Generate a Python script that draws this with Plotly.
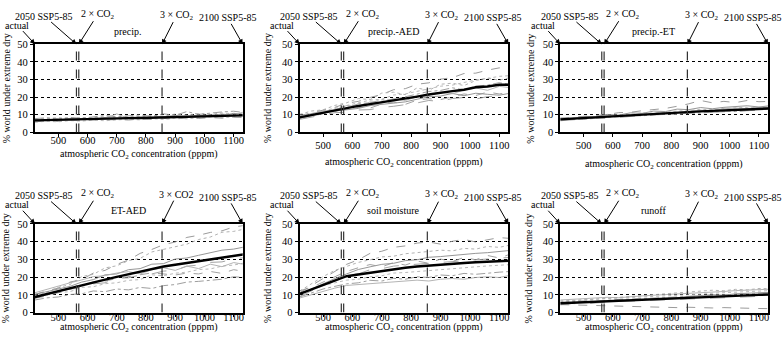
import plotly.graph_objects as go

# CO2 concentration sample points (ppm)
co2 = [420, 460, 500, 540, 580, 620, 660, 700, 740, 780, 820, 860, 900, 940, 980, 1020, 1060, 1100, 1140]

panel_titles = ["precip.", "precip.-AED", "precip.-ET", "ET-AED", "soil moisture", "runoff"]

# reference concentrations: actual, 2050 SSP5-8.5, 2xCO2, 3xCO2, 2100 SSP5-8.5
ref_co2 = [420, 562, 570, 855, 1131]
ref_labels = ["actual", "2050 SSP5-85", "2 × CO<sub>2</sub>", "3 × CO<sub>2</sub>", "2100 SSP5-85"]

# --- precip.
precip_mean = [6.8, 7.0, 7.1, 7.3, 7.5, 7.6, 7.8, 7.9, 8.1, 8.2, 8.4, 8.6, 8.8, 8.9, 9.1, 9.2, 9.4, 9.6, 9.7]
precip_models = [
    [6.0, 6.5, 6.2, 7.0, 6.6, 7.1, 6.9, 7.4, 7.0, 7.6, 7.3, 7.9, 7.6, 8.2, 7.9, 8.4, 8.1, 8.6, 8.4],
    [7.5, 7.9, 8.3, 7.8, 8.4, 8.1, 8.9, 8.5, 9.3, 8.8, 9.6, 9.2, 10.4, 9.8, 10.6, 10.2, 11.0, 10.6, 10.9],
    [6.5, 6.9, 7.3, 7.0, 7.6, 7.4, 8.4, 7.8, 8.0, 8.6, 8.3, 8.9, 9.6, 9.0, 9.4, 10.0, 9.5, 10.8, 10.3],
    [7.2, 6.6, 7.6, 7.9, 7.3, 8.2, 7.8, 8.8, 8.2, 8.0, 8.9, 8.5, 9.2, 8.7, 9.9, 9.3, 10.1, 9.6, 10.2],
    [5.8, 6.3, 6.0, 6.7, 6.4, 7.0, 6.6, 7.2, 7.5, 7.1, 7.8, 7.4, 8.1, 7.7, 8.3, 8.8, 8.2, 8.9, 8.6],
    [7.8, 8.3, 7.6, 8.5, 8.0, 8.7, 9.6, 8.8, 9.2, 9.9, 9.0, 10.5, 9.7, 11.8, 10.2, 11.0, 11.6, 12.0, 11.2],
    [6.3, 7.1, 6.8, 7.4, 7.9, 7.2, 8.0, 10.5, 7.9, 8.4, 8.1, 9.0, 8.6, 9.3, 9.1, 9.6, 10.4, 9.9, 11.8],
]

# --- precip.-AED
p_aed_mean = [8.5, 9.8, 11.2, 12.6, 14.0, 15.0, 16.0, 17.0, 18.0, 19.0, 20.3, 21.5, 22.6, 23.4, 24.2, 25.6, 26.0, 27.0, 27.0]
p_aed_models = [
    [9.5, 11.0, 12.4, 14.2, 16.5, 17.6, 19.8, 21.5, 24.2, 24.8, 27.3, 28.1, 30.2, 31.0, 33.4, 33.6, 35.3, 36.6, 35.5],
    [10.2, 12.1, 12.8, 15.3, 16.8, 19.2, 18.6, 22.3, 22.8, 21.4, 25.2, 23.8, 27.3, 27.9, 26.6, 29.4, 30.8, 29.6, 31.2],
    [8.0, 9.3, 10.8, 12.3, 12.8, 13.6, 15.2, 15.8, 16.4, 17.3, 18.8, 20.2, 20.6, 22.1, 20.8, 22.2, 21.6, 21.1, 22.3],
    [7.4, 8.6, 9.8, 11.2, 11.4, 12.7, 12.9, 14.2, 14.8, 15.6, 16.7, 18.1, 17.6, 19.2, 19.8, 18.9, 20.3, 20.6, 19.8],
    [9.1, 10.3, 12.2, 13.8, 15.3, 16.6, 18.3, 18.8, 21.2, 21.8, 23.4, 24.8, 26.2, 26.8, 28.3, 29.8, 30.6, 31.8, 32.2],
    [8.2, 10.1, 11.3, 13.2, 13.9, 16.2, 16.8, 18.4, 18.7, 20.3, 21.6, 23.2, 23.8, 25.3, 24.1, 26.3, 26.8, 28.2, 27.1],
    [9.3, 10.8, 12.1, 12.8, 15.2, 14.8, 17.3, 16.7, 19.2, 18.1, 20.2, 21.3, 22.8, 21.9, 24.1, 25.2, 23.9, 26.1, 25.3],
    [8.6, 9.1, 10.6, 12.1, 12.9, 14.2, 13.8, 16.1, 17.2, 15.9, 18.3, 19.1, 18.6, 20.2, 21.8, 20.9, 22.9, 21.8, 22.8],
]

# --- precip.-ET
p_et_mean = [7.4, 7.8, 8.2, 8.6, 9.0, 9.3, 9.7, 10.0, 10.4, 10.8, 11.1, 11.5, 11.9, 12.2, 12.5, 12.8, 13.1, 13.4, 13.6]
p_et_models = [
    [8.0, 8.6, 8.9, 9.7, 10.1, 11.2, 11.4, 12.3, 12.8, 13.6, 14.8, 16.2, 18.1, 16.8, 17.6, 16.9, 18.1, 17.4, 17.6],
    [7.1, 7.4, 8.1, 8.4, 9.2, 9.4, 10.2, 10.3, 10.7, 11.1, 10.8, 11.6, 12.1, 11.8, 12.6, 13.2, 13.4, 14.1, 14.6],
    [8.1, 7.8, 9.1, 8.8, 10.2, 9.8, 11.1, 10.8, 12.1, 11.8, 13.2, 12.9, 14.1, 13.4, 14.2, 14.6, 15.1, 14.4, 15.2],
    [6.6, 7.1, 7.4, 8.1, 7.9, 8.6, 8.9, 9.6, 9.9, 10.2, 10.4, 10.6, 10.9, 11.2, 11.4, 11.7, 11.9, 12.6, 12.4],
    [7.6, 8.1, 7.9, 9.1, 8.8, 10.1, 9.8, 11.2, 10.9, 11.6, 12.1, 12.4, 13.1, 12.8, 13.6, 13.9, 14.2, 13.8, 14.6],
    [7.0, 7.6, 7.4, 8.1, 8.6, 8.9, 9.6, 9.4, 10.1, 10.6, 10.1, 11.1, 10.9, 11.6, 12.1, 11.8, 12.6, 13.1, 12.9],
    [7.8, 8.2, 8.6, 8.4, 9.6, 9.2, 10.3, 10.1, 10.8, 11.4, 11.2, 12.1, 12.6, 12.3, 13.4, 13.8, 13.5, 14.2, 14.1],
]

# --- ET-AED
et_aed_mean = [8.8, 10.5, 12.0, 13.8, 15.6, 17.1, 18.6, 20.1, 21.6, 23.0, 24.5, 26.0, 27.0, 28.0, 29.0, 30.0, 31.0, 32.3, 33.0]
et_aed_models = [
    [10.2, 12.3, 13.8, 17.2, 18.6, 22.3, 23.8, 27.2, 29.6, 33.4, 35.6, 38.3, 39.8, 42.4, 43.6, 45.2, 46.1, 48.3, 49.2],
    [9.1, 11.4, 14.2, 15.8, 20.3, 21.6, 25.2, 26.4, 29.3, 30.6, 34.2, 35.8, 37.4, 38.6, 41.2, 42.6, 45.3, 45.8, 47.2],
    [10.3, 11.8, 13.4, 14.8, 17.2, 18.6, 21.3, 21.8, 24.2, 24.8, 27.3, 27.6, 30.2, 30.8, 32.3, 33.6, 35.2, 35.8, 37.1],
    [8.2, 10.1, 11.8, 13.3, 13.8, 16.2, 16.8, 19.3, 19.6, 21.2, 21.8, 23.4, 23.8, 26.2, 26.8, 28.3, 28.6, 30.2, 31.1],
    [9.2, 9.8, 11.3, 11.8, 14.2, 14.6, 16.3, 16.8, 18.2, 18.6, 21.3, 20.8, 22.2, 22.8, 24.3, 24.6, 26.2, 26.8, 28.1],
    [7.1, 8.3, 8.8, 10.2, 10.6, 12.2, 11.8, 13.3, 12.8, 14.2, 13.6, 15.2, 15.8, 17.2, 17.6, 18.3, 18.8, 20.2, 19.8],
    [11.2, 13.1, 15.3, 16.8, 18.4, 20.3, 20.8, 22.3, 23.1, 21.8, 24.2, 25.3, 23.8, 26.2, 24.8, 27.3, 25.9, 28.2, 27.1],
    [8.1, 9.3, 11.2, 13.4, 15.2, 17.3, 17.8, 19.2, 20.3, 21.2, 22.4, 21.8, 21.2, 22.3, 21.8, 23.2, 22.1, 24.2, 23.1],
]

# --- soil moisture
soil_mean = [10.5, 13.0, 15.5, 18.0, 20.5, 21.5, 22.5, 23.5, 24.5, 25.3, 26.0, 26.6, 27.1, 27.6, 28.0, 28.4, 28.7, 29.0, 29.3]
soil_models = [
    [11.2, 15.3, 19.2, 23.4, 27.2, 29.8, 33.4, 34.6, 36.8, 37.6, 39.2, 39.8, 38.6, 40.2, 41.3, 39.8, 41.2, 42.3, 41.8],
    [12.1, 16.2, 20.3, 23.8, 26.2, 28.3, 29.8, 31.4, 31.8, 33.2, 33.8, 34.3, 35.2, 34.8, 36.2, 35.8, 37.3, 36.8, 38.2],
    [10.2, 13.3, 16.1, 19.2, 21.8, 24.3, 25.8, 27.2, 27.8, 29.3, 29.8, 31.2, 31.6, 32.3, 32.8, 33.4, 33.8, 34.6, 35.1],
    [9.1, 12.2, 15.3, 17.8, 21.2, 21.8, 24.2, 24.8, 26.2, 26.8, 27.3, 27.8, 28.3, 28.6, 29.2, 29.8, 30.3, 30.6, 31.2],
    [11.1, 12.8, 15.2, 16.8, 18.3, 18.8, 20.2, 20.8, 22.3, 22.6, 23.2, 23.8, 24.3, 24.6, 25.2, 25.8, 26.3, 26.8, 27.1],
    [8.8, 11.2, 13.3, 14.8, 16.2, 16.8, 18.2, 17.8, 19.3, 18.8, 20.2, 19.8, 21.2, 20.8, 22.1, 21.6, 22.3, 22.8, 23.2],
    [8.2, 10.1, 12.2, 13.8, 15.3, 15.8, 16.3, 16.8, 17.2, 17.8, 18.3, 17.8, 18.8, 19.2, 18.8, 19.8, 20.2, 19.8, 21.1],
    [12.3, 14.1, 17.2, 20.3, 23.2, 25.3, 27.1, 25.8, 28.2, 26.8, 29.1, 27.8, 30.2, 28.8, 31.1, 29.8, 32.2, 30.8, 33.1],
]

# --- runoff
runoff_mean = [5.3, 5.6, 5.9, 6.2, 6.5, 6.8, 7.1, 7.3, 7.6, 7.9, 8.2, 8.5, 8.8, 9.0, 9.3, 9.5, 9.8, 10.0, 10.2]
runoff_models = [
    [4.5, 4.3, 4.0, 3.8, 3.6, 3.4, 3.2, 3.0, 3.1, 2.9, 2.8, 3.0, 2.7, 2.6, 2.8, 2.5, 2.4, 2.3, 2.2],
    [6.1, 6.6, 7.2, 7.4, 8.1, 8.6, 8.9, 9.6, 9.8, 10.6, 10.8, 11.6, 11.8, 12.6, 12.3, 13.1, 12.8, 13.6, 13.4],
    [5.1, 5.6, 5.9, 6.2, 6.4, 7.1, 6.9, 7.6, 7.9, 8.2, 8.4, 9.1, 9.4, 10.1, 9.8, 10.6, 10.9, 11.2, 11.4],
    [4.4, 5.1, 4.9, 5.6, 5.9, 6.2, 6.4, 6.6, 6.9, 7.2, 7.4, 7.6, 7.9, 8.1, 8.4, 8.6, 8.9, 9.1, 9.4],
    [6.6, 6.9, 7.2, 7.4, 7.9, 8.2, 8.4, 8.9, 9.2, 9.4, 9.9, 10.2, 10.4, 10.9, 11.2, 11.4, 11.9, 12.2, 12.4],
    [5.6, 5.9, 6.6, 6.4, 7.1, 7.4, 7.6, 7.9, 8.2, 8.4, 8.9, 9.2, 9.4, 9.6, 10.1, 10.4, 10.6, 10.9, 11.2],
    [7.1, 7.4, 7.8, 8.1, 8.6, 8.4, 9.1, 9.4, 9.8, 10.1, 10.4, 10.9, 11.2, 11.6, 11.9, 12.4, 12.6, 12.9, 13.2],
]

panel_means = [precip_mean, p_aed_mean, p_et_mean, et_aed_mean, soil_mean, runoff_mean]
panel_models = [precip_models, p_aed_models, p_et_models, et_aed_models, soil_models, runoff_models]

# ---------------------------------------------------------------- layout
W, H = 783, 352
X_RANGE = [420, 1131]
Y_RANGE = [0, 50]
FONT = "Liberation Serif, Times New Roman, Times, serif"

# panel boxes in pixels: (left, right), (top, bottom)
cols_px = [(35, 243), (300, 509), (561, 769)]
rows_px = [(40.5, 131.5), (226, 317.5)]
# per-panel offsets for tick labels, x title (px below axis) and y title (px left of axis)
tick_standoff = [-6, -1, -1, -9, -9, -9]
xtitle_off = [23, 31.5, 33, 15, 15.5, 15.5]
ytitle_off = [29, 32, 30, 30, 32, 32]

grey_styles = [("#8e8e8e", "dash"), ("#a8a8a8", "dot"), ("#8a8a8a", "solid"),
               ("#9a9a9a", "longdash"), ("#b0b0b0", "dot"), ("#939393", "dashdot"),
               ("#acacac", "solid"), ("#969696", "dash")]


def to_px(i, xv, yv):
    (l, r), (t, b) = cols_px[i % 3], rows_px[i // 3]
    px = l + (xv - X_RANGE[0]) / (X_RANGE[1] - X_RANGE[0]) * (r - l)
    py = b - (yv - Y_RANGE[0]) / (Y_RANGE[1] - Y_RANGE[0]) * (b - t)
    return px, py


fig = go.Figure()
annotations = []
shapes = []

for i in range(6):
    sfx = "" if i == 0 else str(i + 1)
    (l, r), (t, b) = cols_px[i % 3], rows_px[i // 3]

    for k, ys in enumerate(panel_models[i]):
        color, dash = grey_styles[k % len(grey_styles)]
        fig.add_trace(go.Scatter(x=co2, y=ys, mode="lines", xaxis="x" + sfx, yaxis="y" + sfx,
                                 line=dict(color=color, width=0.9, dash=dash), hoverinfo="skip"))
    fig.add_trace(go.Scatter(x=co2, y=panel_means[i], mode="lines", xaxis="x" + sfx, yaxis="y" + sfx,
                             line=dict(color="black", width=2.4), hoverinfo="skip"))

    fig.update_layout(**{
        "xaxis" + sfx: dict(
            domain=[l / W, r / W], anchor="y" + sfx, range=X_RANGE,
            tick0=500, dtick=100, showgrid=False, zeroline=False,
            showline=True, mirror=True, linecolor="black", linewidth=1.5,
            ticks="outside", ticklen=3, tickcolor="black",
            ticklabelstandoff=tick_standoff[i],
            tickfont=dict(family=FONT, size=10.5, color="black"),
        ),
        "yaxis" + sfx: dict(
            domain=[1 - b / H, 1 - t / H], anchor="x" + sfx, range=Y_RANGE,
            dtick=10, showgrid=True, gridcolor="black", gridwidth=1, griddash="dot",
            zeroline=False, showline=True, mirror=True, linecolor="black", linewidth=2,
            ticks="outside", ticklen=3, tickcolor="black",
            tickfont=dict(family=FONT, size=10.5, color="black"),
        ),
    })

    # vertical reference lines
    for xv in ref_co2[1:4]:
        shapes.append(dict(type="line", xref="x" + sfx, yref="y" + sfx, x0=xv, x1=xv, y0=0, y1=50,
                           line=dict(color="#333333", width=1.2, dash="dash")))

    # labels above the panel, each with an arrow to the top edge
    label_text = list(ref_labels)
    if i == 3:
        label_text[3] = "3 × CO2"
    text_pos = [(360, 60.5), (452, 65.5), (635, 66.5), (905, 66), (1080, 64.5)]
    for j in range(5):
        hx, hy = to_px(i, ref_co2[j], 50)
        tx, ty = to_px(i, *text_pos[j])
        annotations.append(dict(xref="paper", yref="paper", x=hx / W, y=1 - hy / H,
                                text=label_text[j], showarrow=True, arrowhead=2, arrowsize=1,
                                arrowwidth=1, arrowcolor="black", ax=tx - hx, ay=ty - hy,
                                standoff=0, borderpad=0,
                                font=dict(family=FONT, size=10, color="black")))

    # panel title
    px_, py_ = to_px(i, 740, 57.4)
    annotations.append(dict(xref="paper", yref="paper", x=px_ / W, y=1 - py_ / H, text=panel_titles[i],
                            showarrow=False, xanchor="center", yanchor="middle",
                            font=dict(family=FONT, size=10, color="black")))

    # axis titles
    annotations.append(dict(xref="paper", yref="paper", x=(l + r) / 2 / W, y=1 - (b + xtitle_off[i]) / H,
                            text="atmospheric CO<sub>2</sub> concentration (pppm)",
                            showarrow=False, xanchor="center", yanchor="middle",
                            font=dict(family=FONT, size=10, color="black")))
    annotations.append(dict(xref="paper", yref="paper", x=(l - ytitle_off[i]) / W, y=1 - (t + b) / 2 / H,
                            text="% world under extreme dry", textangle=-90,
                            showarrow=False, xanchor="center", yanchor="middle",
                            font=dict(family=FONT, size=10, color="black")))

fig.update_layout(
    width=W, height=H,
    margin=dict(l=0, r=0, t=0, b=0),
    plot_bgcolor="white", paper_bgcolor="white",
    showlegend=False,
    annotations=annotations,
    shapes=shapes,
)

# remove the default page margin so the figure sits at the window's corner
fig.write_html("out.html", config={"displayModeBar": False},
               post_script="document.body.style.margin='0px';")
